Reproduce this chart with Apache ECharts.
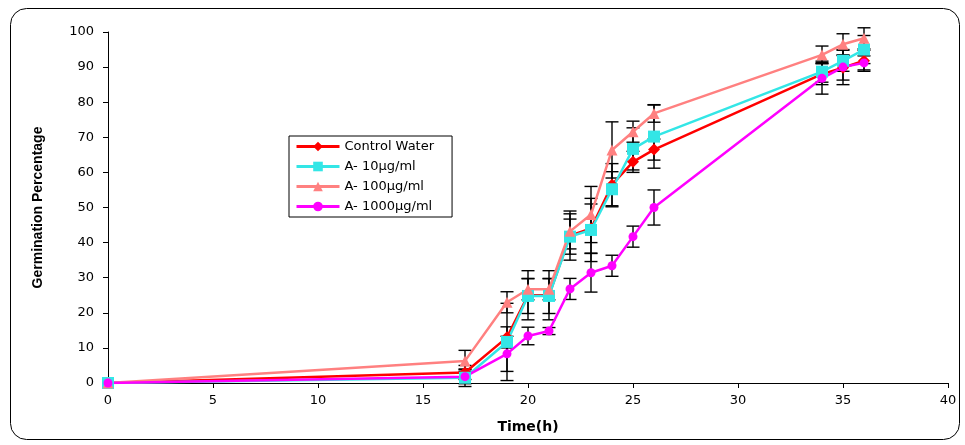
<!DOCTYPE html>
<html><head><meta charset="utf-8">
<script src="https://cdn.jsdelivr.net/npm/echarts@6/dist/echarts.min.js"></script>
<style>html,body{margin:0;padding:0;background:#fff}#c{width:965px;height:445px}</style>
</head><body><div id="c"></div>
<script>
const times = [0, 17, 19, 20, 21, 22, 23, 24, 25, 26, 34, 35, 36];
const seriesNames = ['Control Water', 'A- 10μg/ml', 'A- 100μg/ml', 'A- 1000μg/ml'];
const controlWater = [0, 3, 13, 25, 25, 42, 44, 56.5, 63, 66.5, 88, 89.8, 91.8];
const a10 = [0, 1.5, 11.7, 24.8, 24.8, 41.7, 43.6, 55.2, 66.7, 70.2, 88.7, 91.8, 95];
const a100 = [0, 6.3, 23, 26.7, 26.7, 43.2, 48, 66.4, 71.6, 76.8, 93.5, 96.5, 98.2];
const a1000 = [0, 1.8, 8.3, 13.4, 14.8, 26.8, 31.4, 33.4, 41.7, 50, 86.8, 90, 91.2];
const errControl = [0, 2, 3, 7, 7, 7, 7, 6, 3, 3, 3, 3.5, 3];
const errA10 = [0, 2.5, 11, 5, 5, 5, 9, 5, 6, 9, 3, 3, 4];
const errA100 = [0, 3, 3, 3, 3, 5, 8, 8, 3, 2.5, 2.5, 3, 3];
const errA1000 = [0, 2, 5, 2.5, 1, 3, 5.5, 3, 3, 5, 4.5, 5, 2];
const colors = ['#ff0000', '#33e6e6', '#ff8080', '#ff00ff'];
const symbols = ['diamond', 'rect', 'triangle', 'circle'];
const symbolSizes = [12, 12, 11, 9];

const values = [controlWater, a10, a100, a1000];
const errs = [errControl, errA10, errA100, errA1000];
const wideFont = 'DejaVu Sans, Verdana, sans-serif';

const lineSeries = values.map((v, i) => ({
  name: seriesNames[i], type: 'line', data: times.map((t, k) => [t, v[k]]),
  symbol: symbols[i], symbolSize: symbolSizes[i],
  lineStyle: {color: colors[i], width: 2.5}, itemStyle: {color: colors[i]},
  z: 3, animation: false
}));

const errSeries = values.map((v, i) => ({
  type: 'custom', name: 'err' + i, silent: true, z: 2,
  data: times.map((t, k) => [t, v[k] - errs[i][k], v[k] + errs[i][k]]).filter((d, k) => errs[i][k] > 0),
  renderItem: function (params, api) {
    const x = api.value(0);
    const lo = api.coord([x, api.value(1)]);
    const hi = api.coord([x, api.value(2)]);
    const w = 6.5;
    const st = {stroke: '#000', lineWidth: 1.4, fill: null};
    return {type: 'group', children: [
      {type: 'line', shape: {x1: lo[0], y1: lo[1], x2: hi[0], y2: hi[1]}, style: st},
      {type: 'line', shape: {x1: lo[0] - w, y1: lo[1], x2: lo[0] + w, y2: lo[1]}, style: st},
      {type: 'line', shape: {x1: hi[0] - w, y1: hi[1], x2: hi[0] + w, y2: hi[1]}, style: st}
    ]};
  },
  animation: false
}));

const chart = echarts.init(document.getElementById('c'), null, {renderer: 'canvas'});
chart.setOption({
  animation: false,
  textStyle: {fontFamily: wideFont},
  graphic: [{type: 'rect', shape: {x: 10.5, y: 8.5, width: 949, height: 431, r: 16},
    style: {fill: null, stroke: '#000', lineWidth: 1}, z: 0, silent: true}],
  grid: {left: 108, right: 17, top: 32, bottom: 62},
  legend: {
    data: seriesNames, orient: 'vertical', left: 289, top: 136,
    borderColor: '#000', borderWidth: 1, borderRadius: 0, padding: [4, 18, 4, 6],
    itemGap: 7, itemWidth: 43, itemHeight: 12,
    lineStyle: {width: 3},
    textStyle: {fontSize: 13, color: '#000', fontFamily: wideFont}
  },
  xAxis: {
    type: 'value', min: 0, max: 40, interval: 5,
    name: 'Time(h)', nameLocation: 'middle', nameGap: 37,
    nameTextStyle: {fontWeight: 'bold', fontSize: 14, color: '#000', fontFamily: wideFont},
    axisLine: {onZero: false, lineStyle: {color: '#000', width: 1}},
    axisTick: {show: true, length: 5, lineStyle: {color: '#000'}},
    axisLabel: {color: '#000', fontSize: 13, margin: 11, fontFamily: wideFont},
    splitLine: {show: false}
  },
  yAxis: {
    type: 'value', min: 0, max: 100, interval: 10,
    name: 'Germination Percentage', nameLocation: 'middle', nameGap: 63,
    nameTextStyle: {fontWeight: 'bold', fontSize: 14, color: '#000', fontFamily: 'Liberation Sans, Arial, sans-serif'},
    axisLine: {show: true, lineStyle: {color: '#000', width: 1}},
    axisTick: {show: true, length: 5, lineStyle: {color: '#000'}},
    axisLabel: {color: '#000', fontSize: 13, margin: 14, fontFamily: wideFont},
    splitLine: {show: false}
  },
  series: [...errSeries, ...lineSeries]
});
</script></body></html>
